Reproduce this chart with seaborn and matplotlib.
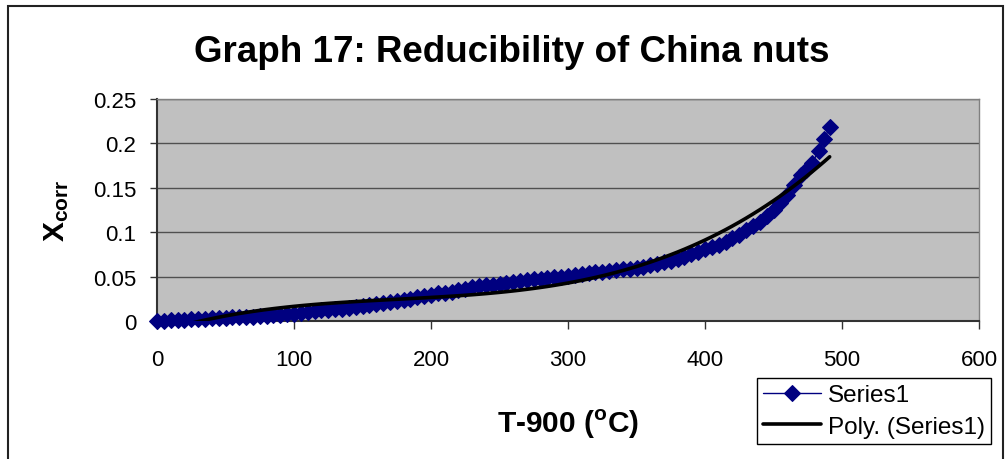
import seaborn as sns
import matplotlib.pyplot as plt
import matplotlib.patches as patches
import numpy as np

# T-900 (deg C) and corrected conversion
temps = list(range(0, 466, 5)) + [470, 474, 478, 483, 487, 491]
xcorr = [0.000, 0.0005, 0.001, 0.0012, 0.0015, 0.002, 0.0022, 0.0025, 0.003, 0.0032,
         0.0035, 0.004, 0.0042, 0.0048, 0.005, 0.0055, 0.006, 0.0065, 0.007, 0.0075,
         0.008, 0.009, 0.010, 0.011, 0.012, 0.0125, 0.0135, 0.014, 0.015, 0.016,
         0.017, 0.018, 0.019, 0.020, 0.021, 0.0225, 0.024, 0.025, 0.0265, 0.028,
         0.029, 0.031, 0.032, 0.033, 0.035, 0.036, 0.038, 0.039, 0.040, 0.041,
         0.042, 0.043, 0.044, 0.045, 0.046, 0.047, 0.047, 0.048, 0.049, 0.050,
         0.051, 0.052, 0.053, 0.054, 0.055, 0.055, 0.056, 0.057, 0.058, 0.059,
         0.060, 0.061, 0.063, 0.064, 0.066, 0.068, 0.070, 0.072, 0.075, 0.078,
         0.081, 0.083, 0.086, 0.089, 0.093, 0.097, 0.102, 0.107, 0.112, 0.118,
         0.125, 0.133, 0.142, 0.153,
         0.164, 0.170, 0.178, 0.191, 0.205, 0.218]
poly_order = 3

x_ticks = [0, 100, 200, 300, 400, 500, 600]
y_ticks = [0, 0.05, 0.1, 0.15, 0.2, 0.25]
y_ticklabels = ["0", "0.05", "0.1", "0.15", "0.2", "0.25"]

sns.set_style("white")
plt.rcParams['font.family'] = ['Liberation Sans', 'DejaVu Sans']
plt.rcParams['mathtext.fontset'] = 'custom'
plt.rcParams['mathtext.rm'] = 'Liberation Sans'
plt.rcParams['mathtext.bf'] = 'Liberation Sans:bold'
for key in ['text.color', 'axes.labelcolor', 'xtick.color', 'ytick.color']:
    plt.rcParams[key] = 'black'

fig = plt.figure(figsize=(10.05, 4.6), dpi=100)
ax = fig.add_axes([157/1005, 1-322/460, 822/1005, 222/460])
ax.set_facecolor('#C0C0C0')

# trend line (Excel-style polynomial fit of the series)
coef = np.polyfit(temps, xcorr, poly_order)
trend = np.polyval(coef, temps)

sns.lineplot(x=temps, y=xcorr, ax=ax, color='#000080', lw=1, marker='D',
             markersize=8.5, markeredgecolor='#000080', label='Series1',
             sort=False, estimator=None, zorder=3, clip_on=False)
sns.lineplot(x=temps, y=trend, ax=ax, color='black', lw=2.6,
             label='Poly. (Series1)', sort=False, estimator=None, zorder=4)

ax.set_xlim(0, 600)
ax.set_ylim(0, 0.25)
ax.set_xticks(x_ticks)
ax.set_yticks(y_ticks)
ax.set_yticklabels(y_ticklabels)
ax.tick_params(axis='x', direction='out', length=6, width=1, pad=14,
               labelsize=16, bottom=True, color='#333333')
ax.tick_params(axis='y', direction='out', length=5, width=1, pad=10,
               labelsize=16, left=True, color='#333333')
ax.grid(axis='y', color='#505050', lw=1)
ax.set_axisbelow(True)
ax.set_xlabel('')
ax.set_ylabel('')

for side in ['top', 'right']:
    ax.spines[side].set_color('#808080')
    ax.spines[side].set_linewidth(1)
for side in ['left', 'bottom']:
    ax.spines[side].set_color('#333333')
    ax.spines[side].set_linewidth(1.5)

fig.text(512/1005, 1-62/460, 'Graph 17: Reducibility of China nuts',
         ha='center', va='baseline', fontsize=26.5, fontweight='bold')
fig.text(568/1005, 1-433/460, r'T-900 ($^{\mathbf{o}}$C)', ha='center',
         va='baseline', fontsize=21.5, fontweight='bold')
fig.text(57/1005, 1-211/460, r'$\mathbf{X_{corr}}$', ha='center', va='center',
         rotation=90, fontsize=21.5)

ax.legend(loc='upper left', bbox_to_anchor=(757/1005, 1-379/460),
          bbox_transform=fig.transFigure, fontsize=17.5, frameon=True,
          fancybox=False, edgecolor='black', framealpha=1, borderpad=0.25,
          labelspacing=0.4, handlelength=2.4, handletextpad=0.27,
          borderaxespad=0)

fig.add_artist(patches.Rectangle((8/1005, -0.05), 995/1005, 1-7/460+0.05,
                                 transform=fig.transFigure, fill=False,
                                 edgecolor='#222222', lw=1.5, clip_on=False))

fig.savefig('out.png', dpi=100)
